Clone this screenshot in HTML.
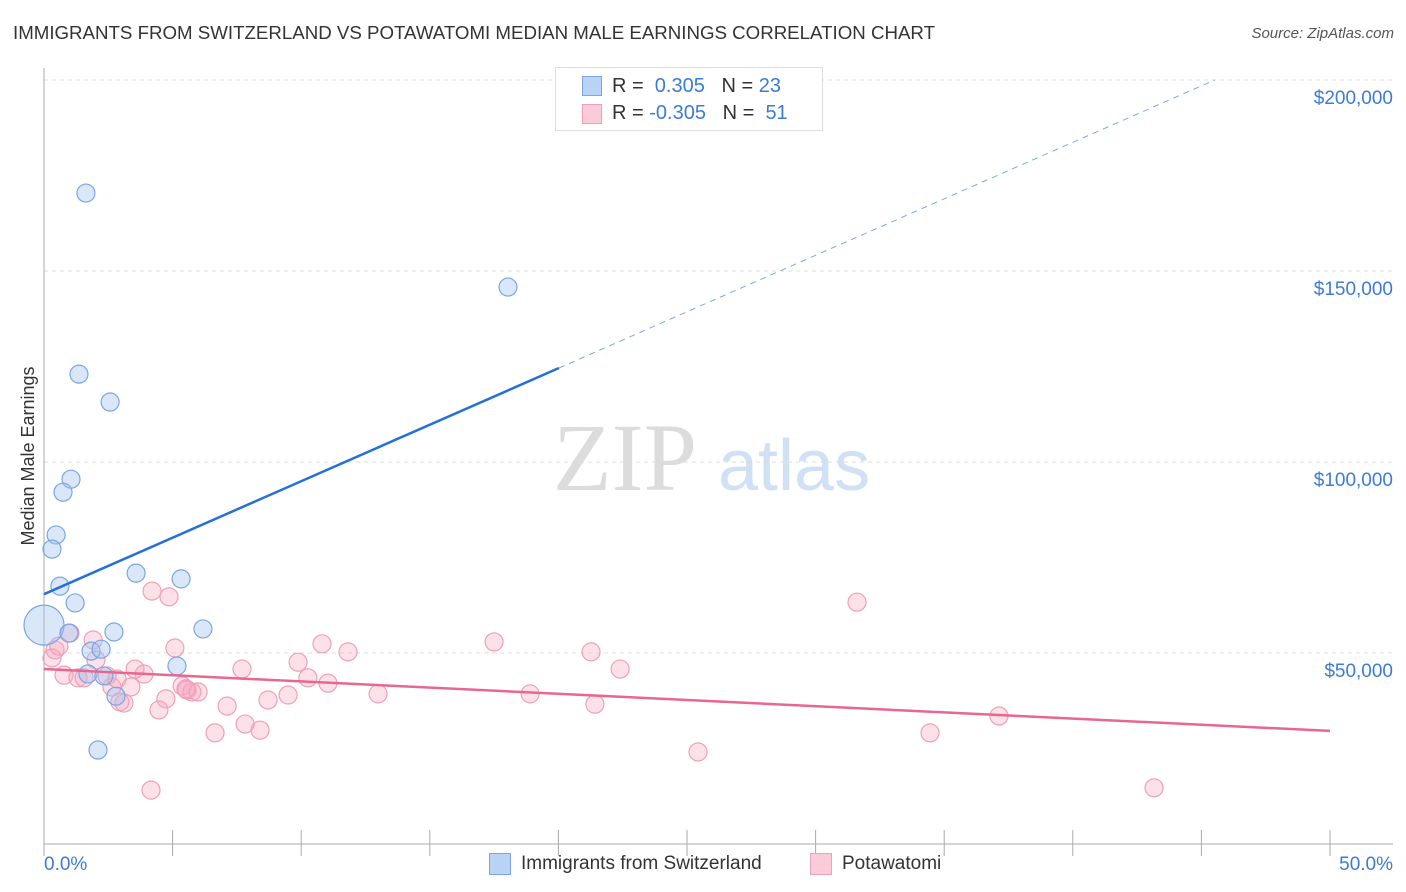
<!DOCTYPE html>
<html><head><meta charset="utf-8"><style>
body{margin:0;background:#fff;font-family:"Liberation Sans",sans-serif;}
#wrap{position:relative;width:1406px;height:892px;overflow:hidden;}
.t{position:absolute;white-space:nowrap;}
</style></head><body>
<div id="wrap">
<div class="t" style="left:13px;top:22px;font-size:18.7px;color:#333;">IMMIGRANTS FROM SWITZERLAND VS POTAWATOMI MEDIAN MALE EARNINGS CORRELATION CHART</div>
<div class="t" style="right:12px;top:25px;font-size:15px;color:#555;font-style:italic;">Source: ZipAtlas.com</div>
<svg id="svg" width="1406" height="892" style="position:absolute;left:0;top:0"></svg>
</div>
<script>
const blueX=[1.63,18.04,1.36,2.57,1.05,0.74,0.47,0.31,0.62,3.58,5.33,1.21,0,0.97,2.72,6.18,1.83,2.22,5.17,1.71,2.33,2.80,2.10];
const blueY=[170400,145800,123000,115700,95500,92100,80900,77200,67500,70900,69400,63100,57300,55200,55500,56300,50500,51000,46600,44500,44000,38700,24600];
const pinkX=[0.43,0.31,1.01,0.58,0.78,1.32,1.56,1.91,2.02,2.45,2.64,2.84,3.11,3.38,3.89,3.54,4.20,4.86,5.09,5.37,4.74,4.47,5.56,5.75,5.99,4.16,6.65,7.12,7.70,7.82,8.40,8.71,9.49,9.88,10.26,10.81,11.04,11.82,12.99,17.50,18.90,21.27,21.42,22.40,25.43,31.61,34.45,37.13,43.16,2.95,5.52];
const pinkY=[50800,48700,55200,51800,44200,43500,43500,53400,48200,44000,41100,43200,36900,41100,44500,45800,66200,64700,51300,41400,38000,35100,40300,39800,39800,14100,29100,36100,45800,31400,29800,37700,39000,47600,43500,52400,42100,50300,39300,52900,39300,50300,36600,45800,24100,63300,29100,33500,14700,37200,40600];
const yTicks=[50000,100000,150000,200000];
const yTickLabels=["$50,000","$100,000","$150,000","$200,000"];
const xTickLabels=["0.0%","50.0%"];
const blueTrend=[65400,124600]; // y at x=0 and x=20.02
const pinkTrend=[45800,29600]; // y at x=0 and x=50

const X=v=>44+v/50*1286, Y=v=>844-v/50000*191;
const s=document.getElementById('svg');const NS='http://www.w3.org/2000/svg';
function el(t,a,p){const e=document.createElementNS(NS,t);for(const k in a)e.setAttribute(k,a[k]);(p||s).appendChild(e);return e;}
let w=el('text',{x:553,y:490,'font-size':96,'font-family':'Liberation Serif,serif',fill:'#dcdcdc'});w.textContent='ZIP';

w=el('text',{x:718,y:490,'font-size':72,'font-family':'Liberation Sans,sans-serif',fill:'#d0e1f5'});w.textContent='atlas';

yTicks.forEach((v,i)=>{
 let g=el('line',{x1:44,x2:1393,y1:Y(v),y2:Y(v),stroke:'#ddd','stroke-dasharray':'4,4'});
 
 let t=el('text',{x:1393,y:Y(v)+24,'text-anchor':'end','font-size':19,fill:'#3c7bd6'});t.textContent=yTickLabels[i];
 
});
let a=el('line',{x1:44,x2:44,y1:68,y2:844,stroke:'#aaa'});
a=el('line',{x1:44,x2:1393,y1:844,y2:844,stroke:'#aaa'});
for(let i=0;i<=10;i++){let tk=el('line',{x1:X(i*5),x2:X(i*5),y1:830,y2:856,stroke:'#aaa'});}
let xl=el('text',{x:44,y:870,'font-size':19,fill:'#3c7bd6'});xl.textContent=xTickLabels[0];
xl=el('text',{x:1393,y:870,'font-size':19,fill:'#3c7bd6','text-anchor':'end'});xl.textContent=xTickLabels[1];
let yt=el('text',{x:34,y:456,'font-size':18,fill:'#333','text-anchor':'middle',transform:'rotate(-90 34 456)'});yt.textContent='Median Male Earnings';

pinkX.forEach((x,i)=>{let c=el('circle',{cx:X(x),cy:Y(pinkY[i]),r:9,fill:'rgba(247,168,192,0.35)',stroke:'#eea0b8','stroke-width':1.2});
 });
blueX.forEach((x,i)=>{let c=el('circle',{cx:X(x),cy:Y(blueY[i]),r:x===0?20:9,fill:'rgba(160,196,240,0.4)',stroke:'#7aa6e6','stroke-width':1.2});
 });
const bs=(blueTrend[1]-blueTrend[0])/20.02;
let l=el('line',{x1:X(0),y1:Y(blueTrend[0]),x2:X(20.02),y2:Y(blueTrend[1]),stroke:'#2470d8','stroke-width':2.5});

const xe=(200000-blueTrend[0])/bs;
l=el('line',{x1:X(20.02),y1:Y(blueTrend[1]),x2:X(xe),y2:Y(200000),stroke:'#7aa6e6','stroke-width':1,'stroke-dasharray':'6,5'});

l=el('line',{x1:X(0),y1:Y(pinkTrend[0]),x2:X(50),y2:Y(pinkTrend[1]),stroke:'#e8678f','stroke-width':2.5});

</script>
<div class="t" style="left:555px;top:67px;width:266px;height:62px;border:1px solid #ddd;background:#fff;">
 <div class="t" style="left:26px;top:8px;width:18px;height:18px;background:#b9d3f5;border:1px solid #7aa6e6;"></div>
 <div class="t" style="left:56px;top:7px;font-size:20px;color:#333">R = &nbsp;<span style="color:#3c7bd6">0.305</span>&nbsp;&nbsp; N = <span style="color:#3c7bd6">23</span></div>
 <div class="t" style="left:26px;top:36px;width:18px;height:18px;background:#fbcbd9;border:1px solid #eea0b8;"></div>
 <div class="t" style="left:56px;top:34px;font-size:20px;color:#333">R = <span style="color:#3c7bd6">-0.305</span>&nbsp;&nbsp; N = &nbsp;<span style="color:#3c7bd6">51</span></div>
</div>
<div class="t" style="left:489px;top:853px;width:20px;height:20px;background:#b9d3f5;border:1px solid #7aa6e6;"></div>
<div class="t" style="left:521px;top:853px;font-size:19px;color:#333">Immigrants from Switzerland</div>
<div class="t" style="left:810px;top:853px;width:20px;height:20px;background:#fbcbd9;border:1px solid #eea0b8;"></div>
<div class="t" style="left:842px;top:853px;font-size:19px;color:#333">Potawatomi</div>
</body></html>
